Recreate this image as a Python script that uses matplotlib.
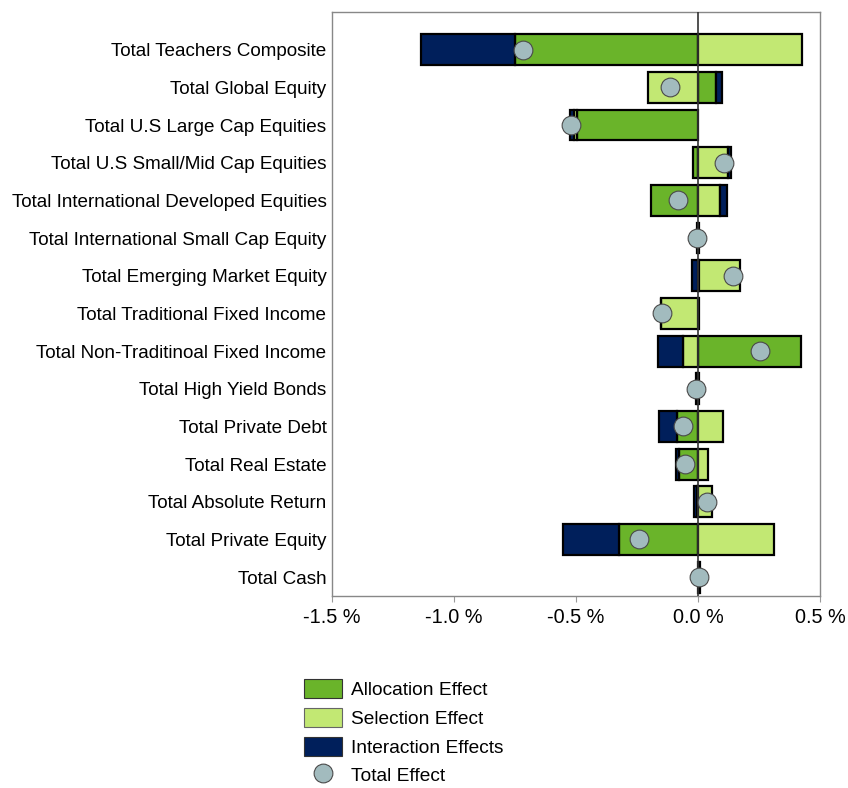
import numpy as np
import matplotlib
matplotlib.use('Agg')
from matplotlib import pyplot as plt
from matplotlib.patches import Patch
from matplotlib.lines import Line2D

plt.rcParams['font.family'] = ['Liberation Sans', 'DejaVu Sans']

#categories, top to bottom
categories = ['Total Teachers Composite', 'Total Global Equity', 'Total U.S Large Cap Equities',
              'Total U.S Small/Mid Cap Equities', 'Total International Developed Equities',
              'Total International Small Cap Equity', 'Total Emerging Market Equity',
              'Total Traditional Fixed Income', 'Total Non-Traditinoal Fixed Income',
              'Total High Yield Bonds', 'Total Private Debt', 'Total Real Estate',
              'Total Absolute Return', 'Total Private Equity', 'Total Cash']

#effects in %
allocation = [-0.749, 0.072, -0.495, -0.019, -0.193, -0.004, 0.005, 0.004, 0.422, -0.006, -0.087, -0.079, -0.004, -0.322, 0.004]
selection = [0.425, -0.206, -0.012, 0.124, 0.090, 0.002, 0.167, -0.150, -0.063, -0.004, 0.101, 0.041, 0.057, 0.313, 0.001]
interaction = [-0.388, 0.025, -0.016, 0.010, 0.027, 0.003, -0.025, -0.002, -0.100, 0.003, -0.071, -0.011, -0.013, -0.230, 0.002]
total = [-0.716, -0.115, -0.522, 0.107, -0.081, -0.003, 0.145, -0.149, 0.254, -0.010, -0.060, -0.052, 0.036, -0.242, 0.005]

xticks = [-1.5, -1.0, -0.5, 0.0, 0.5]

green = '#6ab42a'
light_green = '#c2e873'
navy = '#001f5b'
dot = '#a2bbbe'

fig = plt.figure(figsize=(8.48, 7.88), dpi=100)
ax = fig.add_axes([0.3915, 0.2437, 0.5755, 0.7411])

y = np.arange(len(categories))
pos_left = np.zeros(len(categories))
neg_left = np.zeros(len(categories))

#stack positives to the right and negatives to the left
for vals, col in [(allocation, green), (selection, light_green), (interaction, navy)]:
    vals = np.array(vals)
    left = np.where(vals >= 0, pos_left, neg_left)
    ax.barh(y, vals, left=left, height=0.82, color=col, edgecolor='black', linewidth=1.6, zorder=2)
    pos_left = pos_left + np.where(vals >= 0, vals, 0)
    neg_left = neg_left + np.where(vals < 0, vals, 0)

ax.axvline(0, color='#333333', linewidth=1.2, zorder=3)
ax.plot(total, y, 'o', markersize=13.5, markerfacecolor=dot, markeredgecolor='#4a4a4a',
        markeredgewidth=0.8, zorder=4, linestyle='none')

ax.set_xlim(-1.5, 0.5)
ax.set_ylim(14.5, -1.0)
ax.set_yticks(y)
ax.set_yticklabels(categories, fontsize=13.6)
ax.set_xticks(xticks)
ax.set_xticklabels(['%.1f %%' % v for v in xticks], fontsize=14.3)
ax.tick_params(axis='y', length=0, pad=4)
ax.tick_params(axis='x', length=4, color='#999999', pad=5)
for s in ax.spines.values():
    s.set_color('#888888')
    s.set_linewidth(1.0)

handles = [Patch(facecolor=green, edgecolor='#333333', linewidth=0.8),
           Patch(facecolor=light_green, edgecolor='#666666', linewidth=0.8),
           Patch(facecolor=navy, edgecolor='#333333', linewidth=0.8),
           Line2D([], [], marker='o', linestyle='none', markersize=13.5, markerfacecolor=dot,
                  markeredgecolor='#4a4a4a', markeredgewidth=0.8)]
labels = ['Allocation Effect', 'Selection Effect', 'Interaction Effects', 'Total Effect']
fig.legend(handles, labels, loc='upper left', bbox_to_anchor=(0.3495, 0.1475), frameon=False,
           fontsize=13.8, handlelength=2.0, handleheight=1.15, labelspacing=0.45,
           handletextpad=0.45, borderaxespad=0)

plt.savefig('out.png', dpi=100)
